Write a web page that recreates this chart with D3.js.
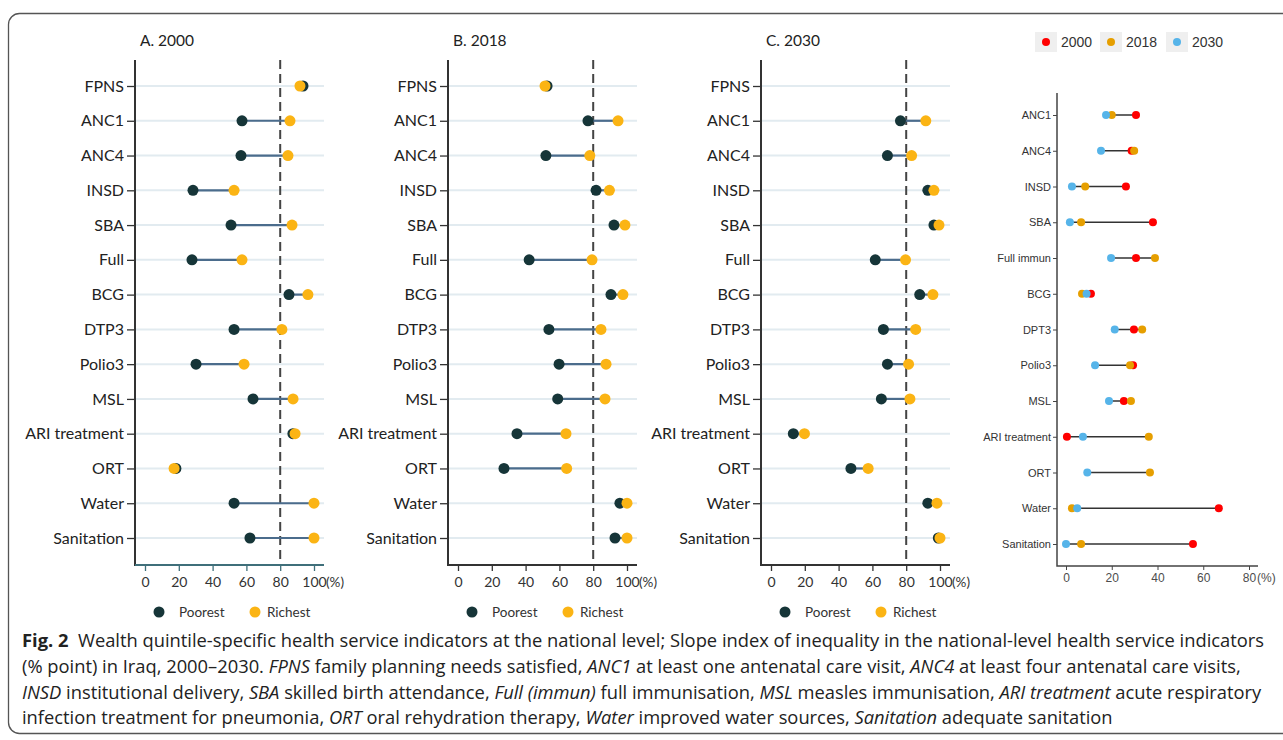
<!DOCTYPE html>
<html>
<head>
<meta charset="utf-8">
<script src="https://cdn.jsdelivr.net/npm/d3@7"></script>
<style>
  body { margin: 0; background: #fff; }
  svg { display: block; }
</style>
</head>
<body>
<svg id="chart" width="1283" height="740"></svg>
<script>
// indicators for the three wealth-quintile panels
var indicators = ["FPNS", "ANC1", "ANC4", "INSD", "SBA", "Full", "BCG", "DTP3",
    "Polio3", "MSL", "ARI treatment", "ORT", "Water", "Sanitation"];

var poorest2000 = [93.5, 57.4, 56.8, 28.4, 50.9, 27.8, 85.2, 52.7, 30.2, 63.9, 87.5, 18.3, 52.7, 62.1];
var richest2000 = [91.7, 85.8, 84.6, 52.7, 87.0, 57.4, 96.4, 81.0, 58.6, 87.6, 88.8, 17.2, 100, 100];

var poorest2018 = [52.7, 76.9, 52.0, 81.7, 92.3, 42.1, 90.5, 53.8, 59.8, 59.0, 34.9, 27.2, 95.8, 92.9];
var richest2018 = [51.5, 94.7, 78.0, 89.6, 98.8, 79.3, 97.6, 84.6, 87.6, 87.0, 63.9, 64.3, 100, 100];

var poorest2030 = [null, 76.6, 68.9, 92.8, 96.4, 61.7, 88.0, 66.5, 68.9, 65.3, 13.2, 47.3, 92.8, 99.0];
var richest2030 = [null, 91.6, 83.2, 96.4, 99.4, 79.6, 95.8, 85.6, 81.4, 82.2, 19.8, 57.5, 98.2, 100];

var panelTitles = ["A. 2000", "B. 2018", "C. 2030"];
var xTicks = [0, 20, 40, 60, 80, 100];

// slope index of inequality panel
var siiIndicators = ["ANC1", "ANC4", "INSD", "SBA", "Full immun", "BCG", "DPT3",
    "Polio3", "MSL", "ARI treatment", "ORT", "Water", "Sanitation"];
var sii2000 = [30.6, 28.7, 26.2, 38.0, 30.6, 10.9, 29.7, 29.3, 25.3, 0.4, null, 66.8, 55.5];
var sii2018 = [20.0, 29.8, 8.4, 6.6, 38.9, 7.0, 33.3, 28.0, 28.4, 36.2, 36.7, 2.6, 6.6];
var sii2030 = [17.5, 15.3, 2.6, 1.7, 19.7, 9.0, 21.3, 12.7, 18.8, 7.4, 9.3, 4.9, 0.0];
var siiYears = ["2000", "2018", "2030"];
var siiTicks = [0, 20, 40, 60, 80];

var svg = d3.select("#chart");

var poorColor = "#163538",
    richColor = "#fbb414",
    yearColors = ["#ff0000", "#e69f00", "#56b4e9"];

// outer frame
svg.append("rect")
    .attr("x", 8.5).attr("y", 13.5)
    .attr("width", 1300).attr("height", 720)
    .attr("rx", 11)
    .attr("fill", "none")
    .attr("stroke", "#555")
    .attr("stroke-width", 1.3);

var panels = [
    { left: 135, poor: poorest2000, rich: richest2000, axisColor: "#3f6f7a" },
    { left: 448, poor: poorest2018, rich: richest2018, axisColor: "#333" },
    { left: 761, poor: poorest2030, rich: richest2030, axisColor: "#333" }
];

var y = d3.scalePoint().domain(indicators).range([86, 538]);
var yTop = 60, yBottom = 565;

panels.forEach(function (p, pi) {
    var x = d3.scaleLinear().domain([0, 100]).range([p.left + 10, p.left + 179]);
    var right = p.left + 189;
    var g = svg.append("g");

    // grid rows
    g.selectAll(".grid").data(indicators).enter().append("line")
        .attr("x1", p.left).attr("x2", right)
        .attr("y1", function (d) { return y(d); })
        .attr("y2", function (d) { return y(d); })
        .attr("stroke", "#e2ebf0")
        .attr("stroke-width", 2);

    // reference line at 80%
    g.append("line")
        .attr("x1", x(80)).attr("x2", x(80))
        .attr("y1", yTop).attr("y2", yBottom)
        .attr("stroke", "#444")
        .attr("stroke-width", 2)
        .attr("stroke-dasharray", "9,5");

    // y axis
    var yAxis = g.append("g")
        .attr("transform", "translate(" + p.left + ",0)")
        .call(d3.axisLeft(y).tickSize(8).tickPadding(3));
    yAxis.select(".domain").remove();
    yAxis.selectAll(".tick line").attr("stroke", "#333").attr("stroke-width", 1.3);
    yAxis.selectAll(".tick text")
        .attr("fill", "#222")
        .style("font-family", "Lato, 'Open Sans', sans-serif")
        .style("font-size", "16px");
    g.append("line")
        .attr("x1", p.left).attr("x2", p.left)
        .attr("y1", yTop).attr("y2", yBottom + 1)
        .attr("stroke", "#333").attr("stroke-width", 2);

    // x axis
    var xAxis = g.append("g")
        .attr("transform", "translate(0," + yBottom + ")")
        .call(d3.axisBottom(x).tickValues(xTicks).tickSize(6).tickPadding(6));
    xAxis.select(".domain").remove();
    xAxis.selectAll(".tick line").attr("stroke", p.axisColor).attr("stroke-width", 1.3);
    xAxis.selectAll(".tick text")
        .attr("fill", "#333")
        .style("font-family", "Lato, 'Open Sans', sans-serif")
        .style("font-size", "14px");
    g.append("line")
        .attr("x1", p.left).attr("x2", right)
        .attr("y1", yBottom).attr("y2", yBottom)
        .attr("stroke", p.axisColor).attr("stroke-width", 2);
    g.append("text")
        .attr("x", x(100) + 12).attr("y", yBottom + 12)
        .attr("dy", "0.71em")
        .attr("fill", "#333")
        .style("font-family", "Lato, 'Open Sans', sans-serif")
        .style("font-size", "13.5px")
        .text("(%)");

    // title
    g.append("text")
        .attr("x", p.left + 5).attr("y", 46)
        .attr("fill", "#222")
        .style("font-family", "Lato, 'Open Sans', sans-serif")
        .style("font-size", "15.5px")
        .text(panelTitles[pi]);

    // dumbbells
    var rows = indicators.map(function (d, i) {
        return { name: d, poor: p.poor[i], rich: p.rich[i] };
    }).filter(function (r) { return r.poor != null && r.rich != null; });

    g.selectAll(".seg").data(rows).enter().append("line")
        .attr("x1", function (d) { return x(d.poor); })
        .attr("x2", function (d) { return x(d.rich); })
        .attr("y1", function (d) { return y(d.name); })
        .attr("y2", function (d) { return y(d.name); })
        .attr("stroke", "#4b6c8c")
        .attr("stroke-width", 2.2);

    g.selectAll(".poor").data(rows).enter().append("circle")
        .attr("cx", function (d) { return x(d.poor); })
        .attr("cy", function (d) { return y(d.name); })
        .attr("r", 5.5)
        .attr("fill", poorColor);

    g.selectAll(".rich").data(rows).enter().append("circle")
        .attr("cx", function (d) { return x(d.rich); })
        .attr("cy", function (d) { return y(d.name); })
        .attr("r", 5.5)
        .attr("fill", richColor);

    // legend
    var lg = g.append("g").attr("transform", "translate(" + p.left + ",612)");
    [["Poorest", poorColor, 24, 44], ["Richest", richColor, 120, 132]].forEach(function (k) {
        lg.append("circle").attr("cx", k[2]).attr("cy", 0).attr("r", 5.5).attr("fill", k[1]);
        lg.append("text")
            .attr("x", k[3]).attr("y", 5)
            .attr("fill", "#333")
            .style("font-family", "Lato, 'Open Sans', sans-serif")
            .style("font-size", "13.5px")
            .text(k[0]);
    });
});

// ---- slope index of inequality panel ----
var xs = d3.scaleLinear().domain([0, 80]).range([1066, 1249]);
var ys = d3.scalePoint().domain(siiIndicators).range([115, 544]);
var dLeft = 1057, dRight = 1258, dTop = 93, dBottom = 566;
var gd = svg.append("g");

var siiRows = siiIndicators.map(function (d, i) {
    var vals = [sii2000[i], sii2018[i], sii2030[i]];
    var present = vals.filter(function (v) { return v != null; });
    return { name: d, vals: vals, min: d3.min(present), max: d3.max(present) };
});

gd.selectAll(".seg").data(siiRows).enter().append("line")
    .attr("x1", function (d) { return xs(d.min); })
    .attr("x2", function (d) { return xs(d.max); })
    .attr("y1", function (d) { return ys(d.name); })
    .attr("y2", function (d) { return ys(d.name); })
    .attr("stroke", "#333")
    .attr("stroke-width", 1.5);

[0, 1, 2].forEach(function (k) {
    gd.selectAll(".dot" + k)
        .data(siiRows.filter(function (r) { return r.vals[k] != null; }))
        .enter().append("circle")
        .attr("cx", function (d) { return xs(d.vals[k]); })
        .attr("cy", function (d) { return ys(d.name); })
        .attr("r", 4)
        .attr("fill", yearColors[k]);
});

var ysAxis = gd.append("g")
    .attr("transform", "translate(" + dLeft + ",0)")
    .call(d3.axisLeft(ys).tickSize(4).tickPadding(2));
ysAxis.select(".domain").remove();
ysAxis.selectAll(".tick line").attr("stroke", "#444");
ysAxis.selectAll(".tick text")
    .attr("fill", "#333")
    .style("font-family", "'Liberation Sans', Arial, sans-serif")
    .style("font-size", "11px");

var xsAxis = gd.append("g")
    .attr("transform", "translate(0," + dBottom + ")")
    .call(d3.axisBottom(xs).tickValues(siiTicks).tickSize(4).tickPadding(3));
xsAxis.select(".domain").remove();
xsAxis.selectAll(".tick line").attr("stroke", "#444");
xsAxis.selectAll(".tick text")
    .attr("fill", "#4d4d4d")
    .style("font-family", "'Liberation Sans', Arial, sans-serif")
    .style("font-size", "12px");
gd.append("text")
    .attr("x", xs(80) + 8).attr("y", dBottom + 7)
    .attr("dy", "0.71em")
    .attr("fill", "#4d4d4d")
    .style("font-family", "'Liberation Sans', Arial, sans-serif")
    .style("font-size", "12px")
    .text("(%)");

gd.append("path")
    .attr("d", "M" + dLeft + "," + dTop + "V" + dBottom + "H" + dRight)
    .attr("fill", "none")
    .attr("stroke", "#444")
    .attr("stroke-width", 1.5);

// year legend
var legX = [1046, 1111, 1177];
siiYears.forEach(function (yr, k) {
    gd.append("rect")
        .attr("x", legX[k] - 11).attr("y", 32)
        .attr("width", 22).attr("height", 20)
        .attr("fill", "#efefef");
    gd.append("circle")
        .attr("cx", legX[k]).attr("cy", 42).attr("r", 4)
        .attr("fill", yearColors[k]);
    gd.append("text")
        .attr("x", legX[k] + 15).attr("y", 47)
        .attr("fill", "#333")
        .style("font-family", "'Liberation Sans', Arial, sans-serif")
        .style("font-size", "14px")
        .text(yr);
});

// ---- caption ----
var captionLines = [
    [["Fig. 2", "b"], ["  Wealth quintile-specific health service indicators at the national level; Slope index of inequality in the national-level health service indicators", ""]],
    [["(% point) in Iraq, 2000\u20132030. ", ""], ["FPNS", "i"], [" family planning needs satisfied, ", ""], ["ANC1", "i"], [" at least one antenatal care visit, ", ""], ["ANC4", "i"], [" at least four antenatal care visits,", ""]],
    [["INSD", "i"], [" institutional delivery, ", ""], ["SBA", "i"], [" skilled birth attendance, ", ""], ["Full (immun)", "i"], [" full immunisation, ", ""], ["MSL", "i"], [" measles immunisation, ", ""], ["ARI treatment", "i"], [" acute respiratory", ""]],
    [["infection treatment for pneumonia, ", ""], ["ORT", "i"], [" oral rehydration therapy, ", ""], ["Water", "i"], [" improved water sources, ", ""], ["Sanitation", "i"], [" adequate sanitation", ""]]
];
var captionBase = [647, 673, 699, 724];

// one horizontal scale for all lines, fitted so the first line ends at x = 1265
var capNodes = captionLines.map(function (parts) {
    var t = svg.append("text")
        .attr("x", 0).attr("y", 0)
        .attr("fill", "#222")
        .attr("xml:space", "preserve")
        .style("white-space", "pre")
        .style("font-family", "'Open Sans', 'Noto Sans', sans-serif")
        .style("font-size", "17.5px");
    parts.forEach(function (pt) {
        var s = t.append("tspan").text(pt[0]);
        if (pt[1] === "b") s.style("font-weight", "bold");
        if (pt[1] === "i") s.style("font-style", "italic");
    });
    return t;
});
var capScale = (1265 - 22) / capNodes[0].node().getComputedTextLength();
capNodes.forEach(function (t, li) {
    t.attr("transform", "translate(22," + captionBase[li] + ") scale(" + capScale + ",1)");
});
</script>
</body>
</html>
